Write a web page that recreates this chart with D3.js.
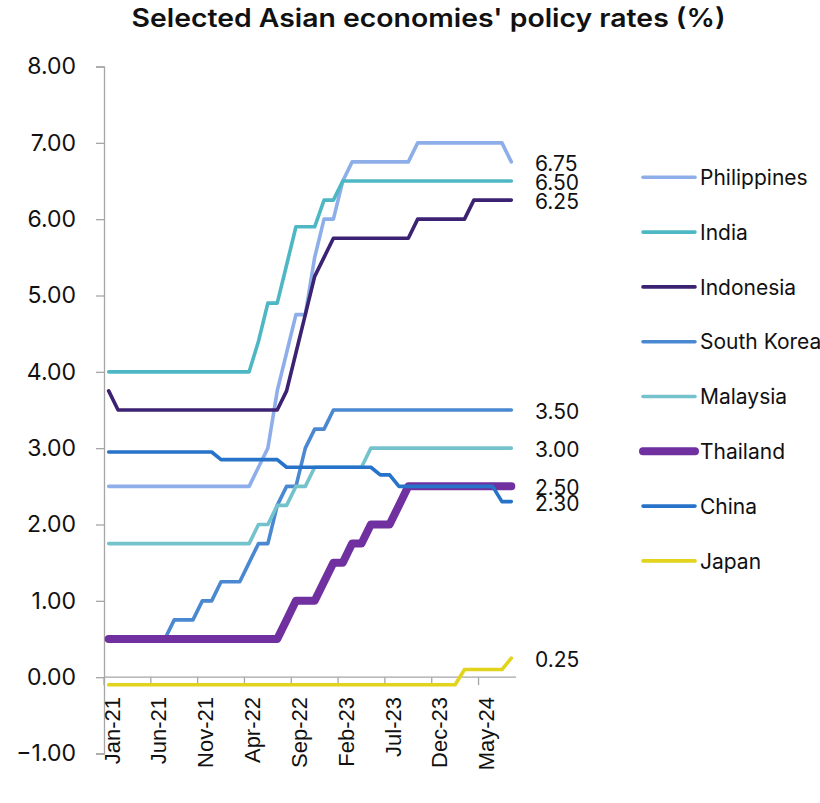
<!DOCTYPE html>
<html>
<head>
<meta charset="utf-8">
<script src="https://cdn.jsdelivr.net/npm/d3@7"></script>
<style>
  html, body { margin: 0; padding: 0; background: #fff; }
  svg { display: block; }
</style>
</head>
<body>
<div id="chart"></div>
<script>
// Month categories, Jan-21 through Aug-24
const months = [
  "Jan-21","Feb-21","Mar-21","Apr-21","May-21","Jun-21","Jul-21","Aug-21","Sep-21","Oct-21","Nov-21","Dec-21",
  "Jan-22","Feb-22","Mar-22","Apr-22","May-22","Jun-22","Jul-22","Aug-22","Sep-22","Oct-22","Nov-22","Dec-22",
  "Jan-23","Feb-23","Mar-23","Apr-23","May-23","Jun-23","Jul-23","Aug-23","Sep-23","Oct-23","Nov-23","Dec-23",
  "Jan-24","Feb-24","Mar-24","Apr-24","May-24","Jun-24","Jul-24","Aug-24"
];

const seriesNames = ["Philippines","India","Indonesia","South Korea","Malaysia","Thailand","China","Japan"];
const seriesColors = ["#8eaeea","#4db7c3","#3c2272","#4a88d1","#74c3cc","#7030a0","#2673c9","#e2d31d"];
const seriesWidths = [3.6, 3.6, 3.6, 3.6, 3.6, 8, 3.6, 3.6];

const philippines = [
  2.5,2.5,2.5,2.5,2.5,2.5,2.5,2.5,2.5,2.5,2.5,2.5,
  2.5,2.5,2.5,2.5,2.75,3.0,3.75,4.25,4.75,4.75,5.5,6.0,
  6.0,6.5,6.75,6.75,6.75,6.75,6.75,6.75,6.75,7.0,7.0,7.0,
  7.0,7.0,7.0,7.0,7.0,7.0,7.0,6.75
];
const india = [
  4.0,4.0,4.0,4.0,4.0,4.0,4.0,4.0,4.0,4.0,4.0,4.0,
  4.0,4.0,4.0,4.0,4.4,4.9,4.9,5.4,5.9,5.9,5.9,6.25,
  6.25,6.5,6.5,6.5,6.5,6.5,6.5,6.5,6.5,6.5,6.5,6.5,
  6.5,6.5,6.5,6.5,6.5,6.5,6.5,6.5
];
const indonesia = [
  3.75,3.5,3.5,3.5,3.5,3.5,3.5,3.5,3.5,3.5,3.5,3.5,
  3.5,3.5,3.5,3.5,3.5,3.5,3.5,3.75,4.25,4.75,5.25,5.5,
  5.75,5.75,5.75,5.75,5.75,5.75,5.75,5.75,5.75,6.0,6.0,6.0,
  6.0,6.0,6.0,6.25,6.25,6.25,6.25,6.25
];
const southKorea = [
  0.5,0.5,0.5,0.5,0.5,0.5,0.5,0.75,0.75,0.75,1.0,1.0,
  1.25,1.25,1.25,1.5,1.75,1.75,2.25,2.5,2.5,3.0,3.25,3.25,
  3.5,3.5,3.5,3.5,3.5,3.5,3.5,3.5,3.5,3.5,3.5,3.5,
  3.5,3.5,3.5,3.5,3.5,3.5,3.5,3.5
];
const malaysia = [
  1.75,1.75,1.75,1.75,1.75,1.75,1.75,1.75,1.75,1.75,1.75,1.75,
  1.75,1.75,1.75,1.75,2.0,2.0,2.25,2.25,2.5,2.5,2.75,2.75,
  2.75,2.75,2.75,2.75,3.0,3.0,3.0,3.0,3.0,3.0,3.0,3.0,
  3.0,3.0,3.0,3.0,3.0,3.0,3.0,3.0
];
const thailand = [
  0.5,0.5,0.5,0.5,0.5,0.5,0.5,0.5,0.5,0.5,0.5,0.5,
  0.5,0.5,0.5,0.5,0.5,0.5,0.5,0.75,1.0,1.0,1.0,1.25,
  1.5,1.5,1.75,1.75,2.0,2.0,2.0,2.25,2.5,2.5,2.5,2.5,
  2.5,2.5,2.5,2.5,2.5,2.5,2.5,2.5
];
const china = [
  2.95,2.95,2.95,2.95,2.95,2.95,2.95,2.95,2.95,2.95,2.95,2.95,
  2.85,2.85,2.85,2.85,2.85,2.85,2.85,2.75,2.75,2.75,2.75,2.75,
  2.75,2.75,2.75,2.75,2.75,2.65,2.65,2.5,2.5,2.5,2.5,2.5,
  2.5,2.5,2.5,2.5,2.5,2.5,2.3,2.3
];
const japan = [
  -0.1,-0.1,-0.1,-0.1,-0.1,-0.1,-0.1,-0.1,-0.1,-0.1,-0.1,-0.1,
  -0.1,-0.1,-0.1,-0.1,-0.1,-0.1,-0.1,-0.1,-0.1,-0.1,-0.1,-0.1,
  -0.1,-0.1,-0.1,-0.1,-0.1,-0.1,-0.1,-0.1,-0.1,-0.1,-0.1,-0.1,
  -0.1,-0.1,0.1,0.1,0.1,0.1,0.1,0.25
];

const yTicks = [-1, 0, 1, 2, 3, 4, 5, 6, 7, 8];
const xLabelEvery = 5;
const titleText = "Selected Asian economies' policy rates (%)";

const seriesValues = [philippines, india, indonesia, southKorea, malaysia, thailand, china, japan];
const series = seriesNames.map((name, k) => ({
  name, color: seriesColors[k], width: seriesWidths[k], values: seriesValues[k]
}));

const W = 820, H = 803;
const plot = { left: 104, right: 516, top: 66.5, bottom: 753.5 };

const svg = d3.select("#chart").append("svg")
  .attr("width", W).attr("height", H)
  .attr("viewBox", `0 0 ${W} ${H}`);

const x = d3.scaleBand().domain(months).range([plot.left, plot.right]).paddingInner(0).paddingOuter(0);
const xc = d => x(d) + x.bandwidth() / 2;
const y = d3.scaleLinear().domain([-1, 8]).range([plot.bottom, plot.top]);

// Title, widened to the span of a broad display face
svg.append("text")
  .attr("x", 428.5).attr("y", 27)
  .attr("text-anchor", "middle")
  .attr("font-family", "Inter, 'Noto Sans', sans-serif")
  .attr("font-weight", 600)
  .attr("font-size", 25)
  .attr("textLength", 594)
  .attr("lengthAdjust", "spacingAndGlyphs")
  .attr("fill", "#111")
  .text(titleText);

// Y axis
const yAxis = d3.axisLeft(y).tickValues(yTicks).tickSize(8).tickPadding(20)
  .tickFormat(d3.format(".2f"));
const gy = svg.append("g").attr("transform", `translate(${plot.left},0)`).call(yAxis);
gy.select(".domain").attr("stroke", "#a6a6a6").attr("stroke-width", 1.3);
gy.selectAll(".tick line").attr("stroke", "#a6a6a6").attr("stroke-width", 1.3);
gy.selectAll(".tick text")
  .attr("font-family", "Inter, 'Noto Sans', sans-serif")
  .attr("font-size", 23)
  .attr("fill", "#111")
  .attr("dy", "0.32em");

// X axis at zero: ticks at category boundaries every five months
const boundaries = months.filter((m, i) => i % xLabelEvery === 0);
const gx = svg.append("g").attr("transform", `translate(0,${y(0)})`);
gx.append("line")
  .attr("x1", plot.left).attr("x2", plot.right)
  .attr("stroke", "#a6a6a6").attr("stroke-width", 1.3);
gx.selectAll("line.tick").data(boundaries).join("line")
  .attr("class", "tick")
  .attr("x1", d => x(d)).attr("x2", d => x(d))
  .attr("y1", 0).attr("y2", 8)
  .attr("stroke", "#a6a6a6").attr("stroke-width", 1.3);

// Rotated month labels
svg.append("g").selectAll("text").data(boundaries).join("text")
  .attr("transform", d => `translate(${xc(d) + 3},697) rotate(-90)`)
  .attr("text-anchor", "end")
  .attr("dy", "0.36em")
  .attr("font-family", "'Liberation Sans', Arial, sans-serif")
  .attr("font-size", 22)
  .attr("fill", "#111")
  .text(d => d);

// Series lines
const line = d3.line()
  .x((v, i) => xc(months[i]))
  .y(v => y(v));

svg.append("g").selectAll("path").data(series).join("path")
  .attr("d", s => line(s.values))
  .attr("fill", "none")
  .attr("stroke", s => s.color)
  .attr("stroke-width", s => s.width)
  .attr("stroke-linejoin", "round")
  .attr("stroke-linecap", "round");

// End-of-series value labels
const fmt = d3.format(".2f");
svg.append("g").selectAll("text").data(series).join("text")
  .attr("x", 535)
  .attr("y", s => y(s.values[s.values.length - 1]))
  .attr("dy", 9)
  .attr("font-family", "Inter, 'Noto Sans', sans-serif")
  .attr("font-size", 21)
  .attr("fill", "#111")
  .text(s => fmt(s.values[s.values.length - 1]));

// Legend
const legend = svg.append("g").selectAll("g").data(series).join("g")
  .attr("transform", (s, k) => `translate(643,${177.3 + k * 54.8})`);
legend.append("line")
  .attr("x1", 0).attr("x2", 52)
  .attr("stroke", s => s.color)
  .attr("stroke-width", s => s.width)
  .attr("stroke-linecap", "round");
legend.append("text")
  .attr("x", 57).attr("dy", 7.7)
  .attr("font-family", "Inter, 'Noto Sans', sans-serif")
  .attr("font-size", 21)
  .attr("fill", "#111")
  .text(s => s.name);
</script>
</body>
</html>
